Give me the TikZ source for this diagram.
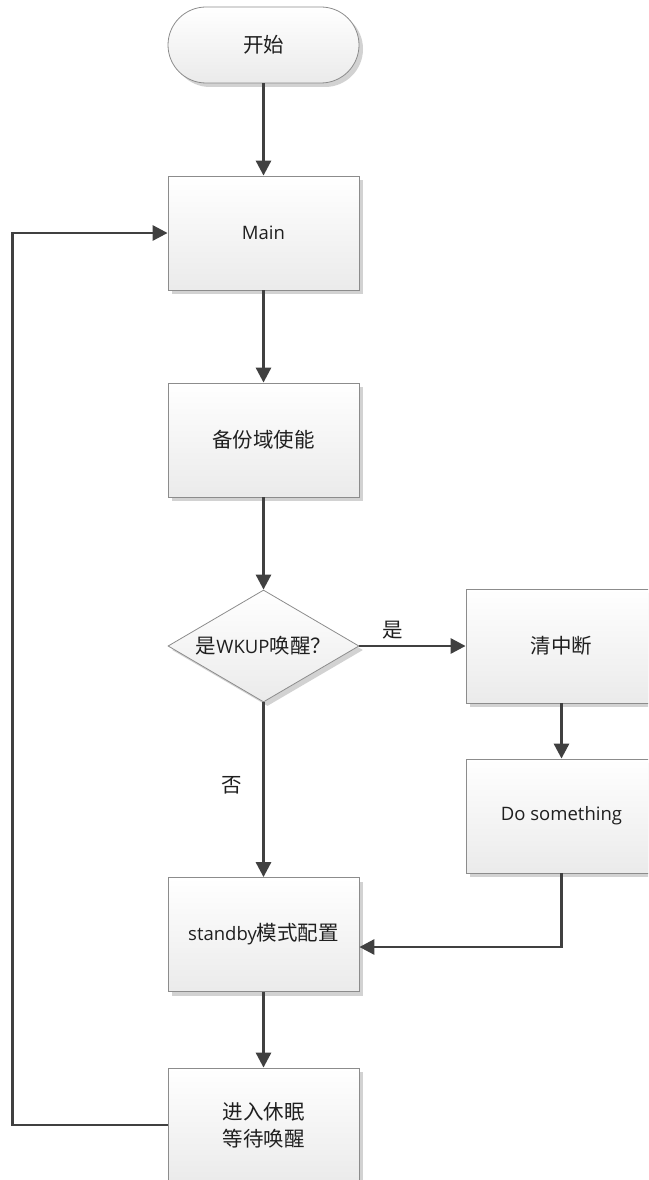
\documentclass[tikz,border=0pt]{standalone}
\usepackage{fontspec}
\setmainfont{Open Sans}
\newfontfamily\cjk{Noto Sans CJK SC}
\usetikzlibrary{shapes.geometric,arrows.meta,shadows}
\definecolor{arr}{HTML}{404040}
\definecolor{bord}{HTML}{8C8C8C}
\definecolor{shd}{HTML}{D2D2D2}
\newcommand{\zh}[1]{{\cjk\fontsize{20.5}{27}\selectfont #1}}
\newcommand{\en}[1]{{\fontsize{18.5}{24}\selectfont #1}}
\tikzset{
  base/.style={draw=bord, line width=0.8pt, top color=white, bottom color=black!8,
    inner sep=0pt, text=black!88,
    drop shadow={shadow xshift=4pt, shadow yshift=-4pt, fill=shd, opacity=1}},
  box/.style={base, rectangle, minimum width=191pt, minimum height=114pt, align=center},
  term/.style={base, rectangle, rounded corners=38pt, minimum width=191pt, minimum height=76pt},
  deci/.style={base, diamond, aspect=1.7, minimum width=191pt, minimum height=112pt},
  conn/.style={draw=arr, line width=2.9pt, -{Triangle[length=15pt,width=15pt]}},
  lbl/.style={inner sep=0pt, text=black!88}
}
\begin{document}
\begin{tikzpicture}[x=1pt,y=-1pt]
\useasboundingbox (0,0) rectangle (648,1180);
\clip (0,0) rectangle (648,1180);
\node[term] (start) at (263.5,45) {\zh{开始}};
\node[box] (main) at (263.5,233) {\en{Main}};
\node[box] (bkp) at (263.5,440) {\zh{备份域使能}};
\node[deci] (dec) at (263.5,646) {\zh{是}\en{WKUP}\zh{唤醒？}};
\node[box] (clr) at (561.5,646) {\zh{清中断}};
\node[box] (ds) at (561.5,816) {\en{Do something}};
\node[box] (stb) at (263.5,934.5) {\en{standby}\zh{模式配置}};
\node[box] (slp) at (263.5,1125) {\zh{进入休眠}\\[7pt]\zh{等待唤醒}};
\node[lbl] (yes) at (393,630) {\zh{是}};
\node[lbl] (no) at (232,785) {\zh{否}};
\draw[conn] (start) -- (main);
\draw[conn] (main) -- (bkp);
\draw[conn] (bkp) -- (dec);
\draw[conn] (dec.east) -- (clr.west);
\draw[conn] (clr) -- (ds);
\draw[conn] (dec.south) -- (stb.north);
\draw[conn] (ds.south) |- ([yshift=-12.5pt]stb.east);
\draw[conn] (stb) -- (slp);
\draw[conn] (slp.west) -- ++(-155,0) coordinate (lp) |- (main.west);
\end{tikzpicture}
\end{document}
